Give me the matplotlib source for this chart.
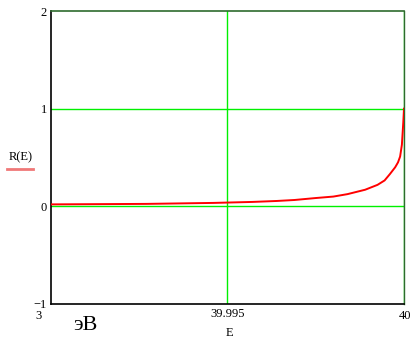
import matplotlib.pyplot as plt

# data
E_vals = [39.99, 39.9927, 39.9946, 39.9957, 39.9964, 39.9969, 39.9975, 39.9980,
          39.9984, 39.9989, 39.99925, 39.99945, 39.9996, 39.99975, 39.99983,
          39.99989, 39.99994, 39.99998, 40.0]
R_vals = [0.02, 0.025, 0.035, 0.045, 0.055, 0.065, 0.085, 0.10,
          0.125, 0.17, 0.22, 0.265, 0.33, 0.40, 0.45,
          0.51, 0.63, 0.86, 1.0]

y_ticks = [-1, 0, 1, 2]
x_grid = [39.995, 40.0]

W, H = 412, 339
plt.rcParams['font.family'] = ['Liberation Serif', 'DejaVu Serif']

fig = plt.figure(figsize=(W / 100, H / 100), dpi=100, facecolor='white')
ax = fig.add_axes([51 / W, 1 - 304 / H, (404 - 51) / W, (304 - 11) / H])

green = '#00f000'
for y in [0, 1]:
    ax.axhline(y, color=green, lw=1.0, zorder=1)
for x in x_grid:
    ax.axvline(x, color=green, lw=1.0, zorder=1)

ax.plot(E_vals, R_vals, color='#ff0000', lw=1.4, zorder=3)

ax.set_xlim(39.99, 40.0)
ax.set_ylim(-1, 2)
ax.set_yticks(y_ticks)
ax.set_yticklabels(['\u22121', '0', '1', '2'], fontsize=9)
ax.set_xticks([39.995])
ax.set_xticklabels(['39.995'], fontsize=9)
ax.tick_params(length=0, pad=3)

for s in ['left', 'bottom']:
    ax.spines[s].set_color('black')
    ax.spines[s].set_linewidth(1.2)
ax.spines['top'].set_color('#2e6b2e')
ax.spines['right'].set_color('#2e6b2e')
ax.spines['top'].set_linewidth(1.2)
ax.spines['right'].set_linewidth(1.0)

# extra texts
fig.text(39 / W, 1 - 316 / H, '3', fontsize=9, ha='center', va='center')
fig.text(399 / W, 1 - 316 / H, '40', fontsize=9, ha='left', va='center')
fig.text(229 / W, 1 - 333 / H, 'E', fontsize=9, ha='center', va='center')
fig.text(85 / W, 1 - 326 / H, 'эВ', fontsize=16, ha='center', va='center')
fig.text(21 / W, 1 - 157 / H, 'R(E)', fontsize=9, ha='center', va='center')
fig.add_artist(plt.Line2D([7 / W, 33 / W], [1 - 169 / H, 1 - 169 / H],
                          color='#f07878', lw=2, transform=fig.transFigure))

fig.savefig('out.png', dpi=100, facecolor='white')
